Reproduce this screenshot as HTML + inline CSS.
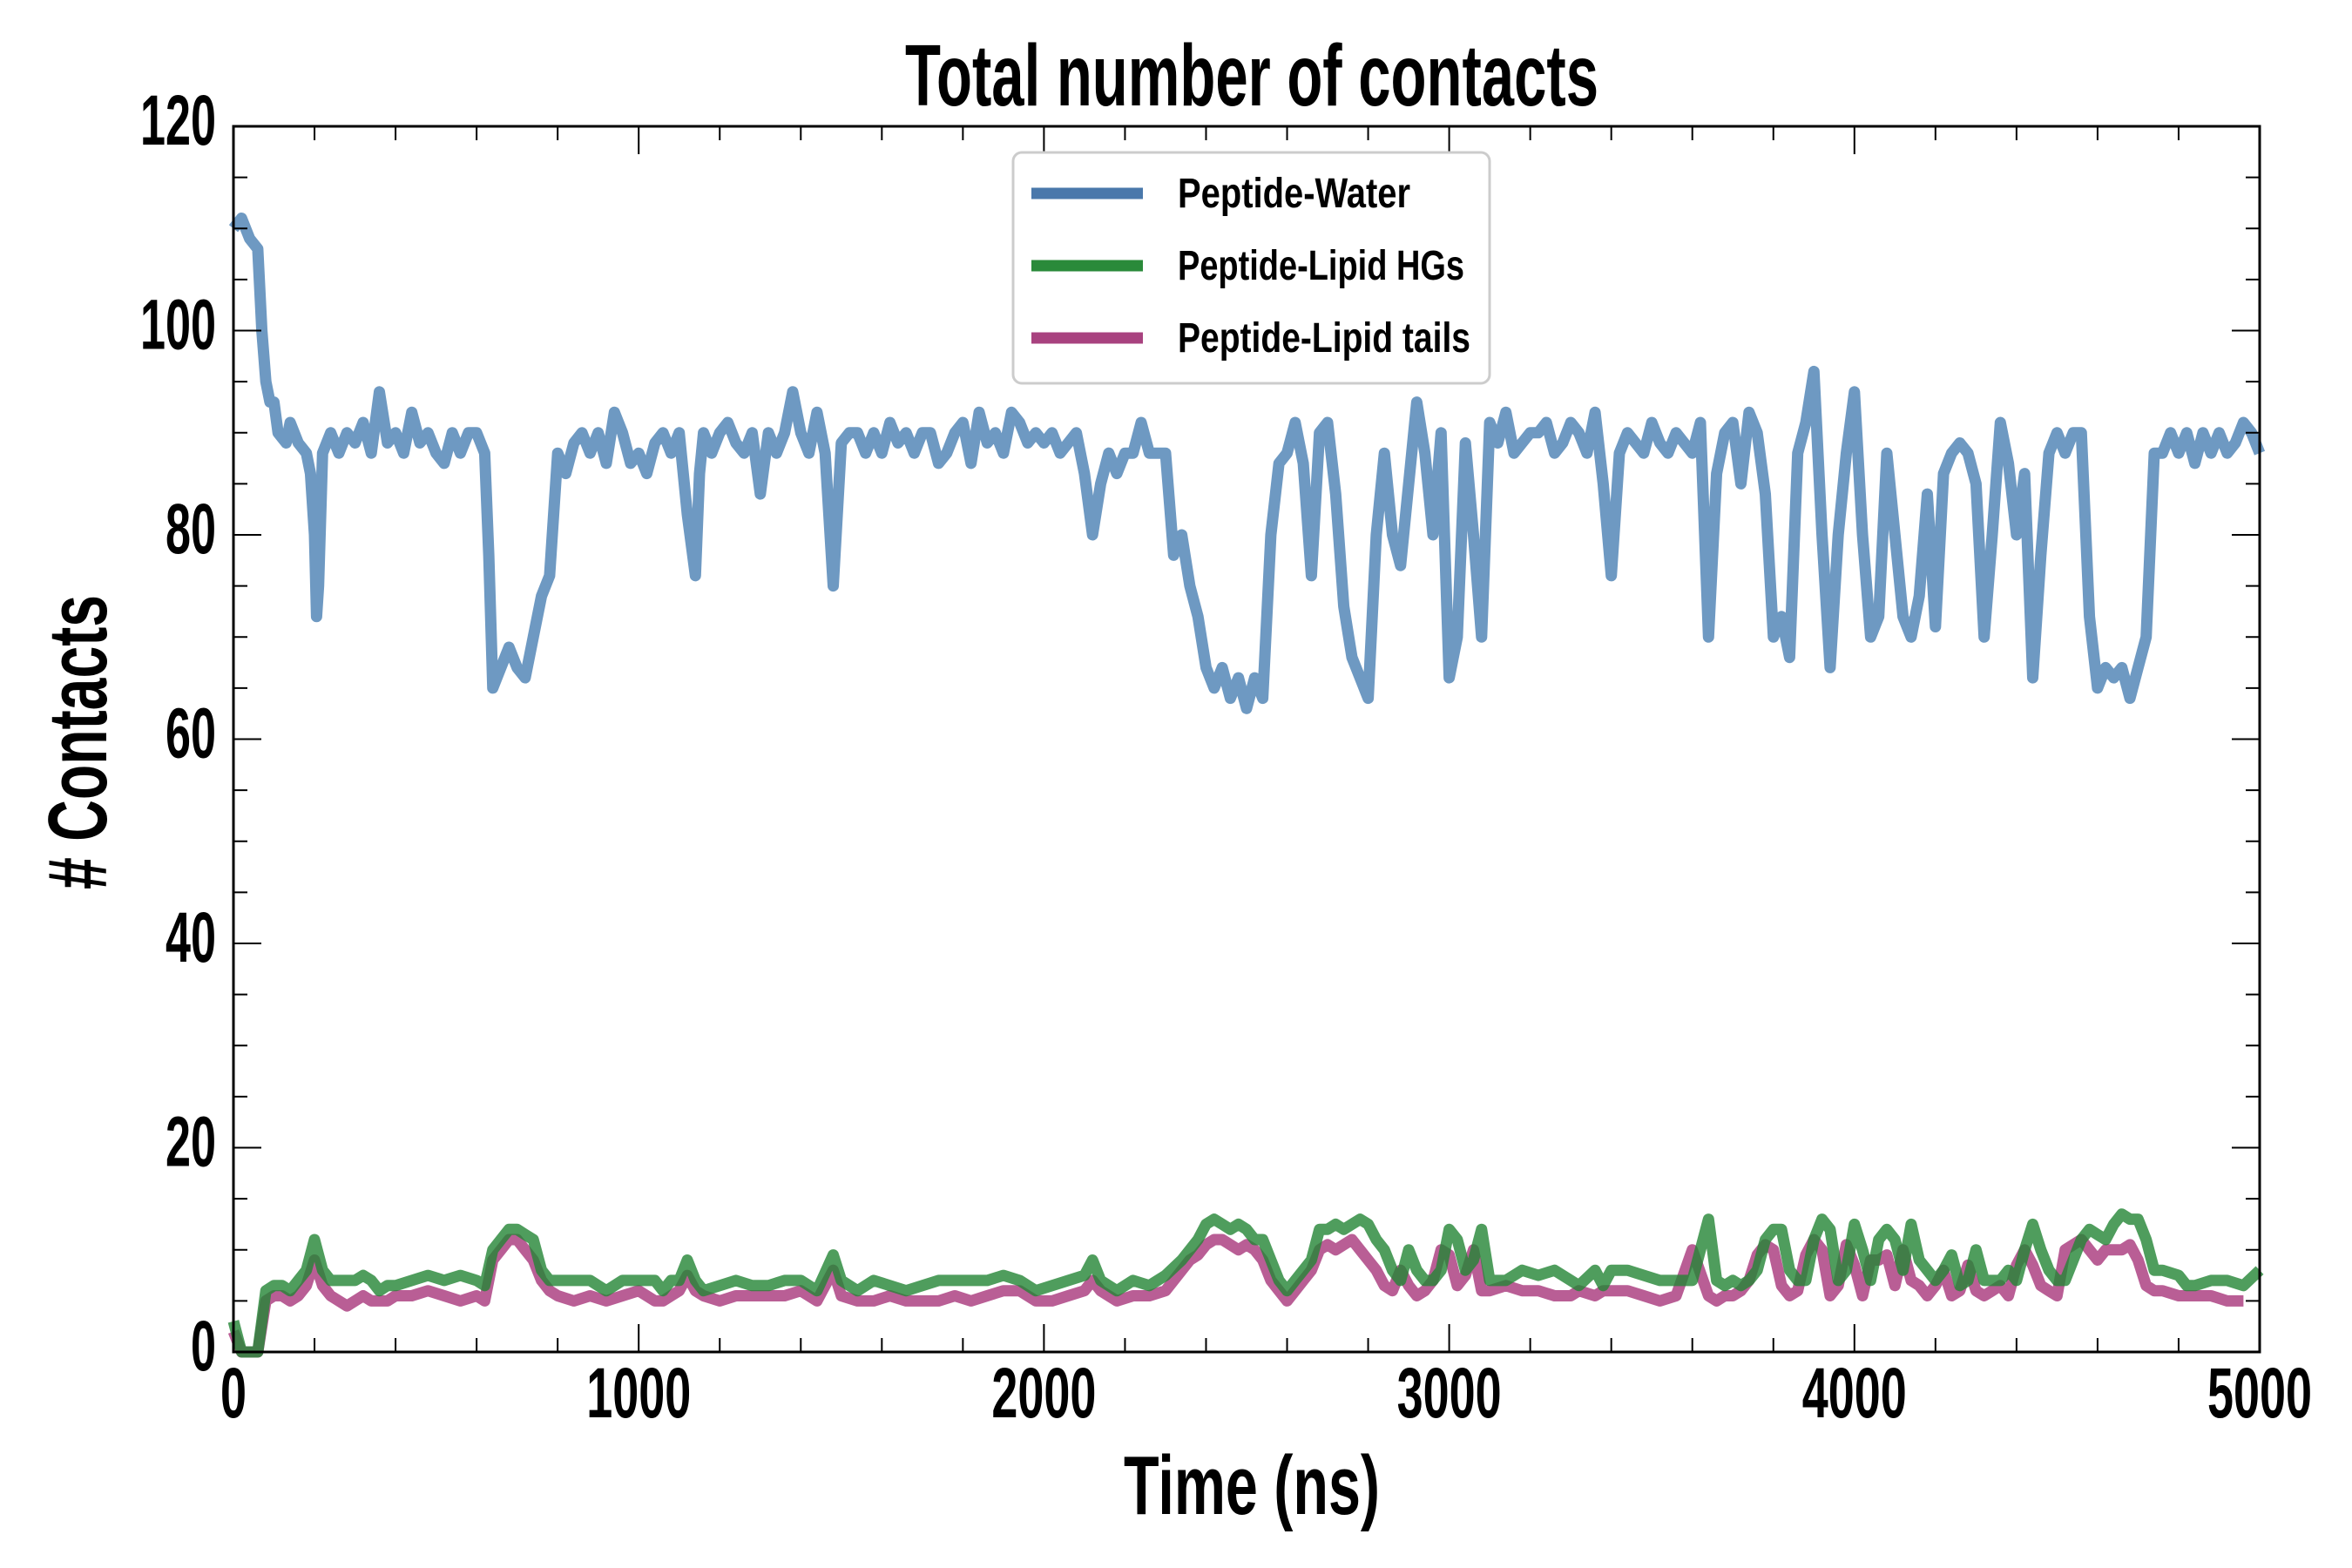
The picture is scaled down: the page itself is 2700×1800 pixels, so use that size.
<!DOCTYPE html>
<html><head><meta charset="utf-8">
<style>
html,body{margin:0;padding:0;background:#fff;}
svg{display:block;}
text{font-family:"Liberation Sans Narrow","Liberation Sans",sans-serif;font-weight:bold;fill:#000;}
</style></head>
<body>
<svg id="chart" width="2700" height="1800" viewBox="0 0 2700 1800" xmlns="http://www.w3.org/2000/svg">
<rect width="2700" height="1800" fill="#fff"/>
<g id="series"></g>
<g id="axes"></g>
<text x="1039" y="121" font-size="100" textLength="796" lengthAdjust="spacingAndGlyphs">Total number of contacts</text>
<text x="1290" y="1738" font-size="96" textLength="294" lengthAdjust="spacingAndGlyphs">Time (ns)</text>
<text transform="translate(122,1021) rotate(-90)" x="0" y="0" font-size="96" textLength="338" lengthAdjust="spacingAndGlyphs"># Contacts</text>
<g>
<rect x="1163" y="175" width="547" height="265" rx="10" fill="#fff" stroke="#ccc" stroke-width="3"/>
<line x1="1184" y1="222" x2="1312" y2="222" stroke="#4a78ab" stroke-width="13"/>
<text x="1352" y="238" font-size="48" textLength="267" lengthAdjust="spacingAndGlyphs">Peptide-Water</text>
<line x1="1184" y1="305" x2="1312" y2="305" stroke="#2a8a3a" stroke-width="13"/>
<text x="1352" y="321" font-size="48" textLength="329" lengthAdjust="spacingAndGlyphs">Peptide-Lipid HGs</text>
<line x1="1184" y1="388" x2="1312" y2="388" stroke="#a8427f" stroke-width="13"/>
<text x="1352" y="404" font-size="48" textLength="336" lengthAdjust="spacingAndGlyphs">Peptide-Lipid tails</text>
</g>
</svg>
<script>
const waterT=[0,20,40,60,70,80,90,100,110,130,140,160,180,190,200,205,210,220,240,260,280,300,320,340,360,380,400,420,440,460,480,500,520,540,560,580,600,620,630,640,660,680,700,720,740,760,780,800,820,840,860,880,900,920,940,960,980,1000,1020,1040,1060,1080,1100,1120,1140,1150,1160,1180,1200,1220,1240,1260,1280,1300,1320,1340,1360,1380,1400,1420,1440,1460,1480,1500,1520,1540,1560,1580,1600,1620,1640,1660,1680,1700,1720,1740,1760,1780,1800,1820,1840,1860,1880,1900,1920,1940,1960,1980,2000,2020,2040,2060,2080,2100,2120,2140,2160,2180,2200,2220,2240,2260,2280,2300,2320,2340,2360,2380,2400,2420,2440,2460,2480,2500,2520,2540,2560,2580,2600,2620,2640,2660,2680,2700,2720,2740,2760,2780,2800,2820,2840,2860,2880,2900,2920,2940,2960,2980,3000,3020,3040,3060,3080,3100,3120,3140,3160,3180,3200,3220,3240,3260,3280,3300,3320,3340,3360,3380,3400,3420,3440,3460,3480,3500,3520,3540,3560,3580,3600,3620,3640,3660,3680,3700,3720,3740,3760,3780,3800,3820,3840,3860,3880,3900,3920,3940,3960,3980,4000,4020,4040,4060,4080,4100,4120,4140,4160,4180,4200,4220,4240,4260,4280,4300,4320,4340,4360,4380,4400,4420,4440,4460,4480,4500,4520,4540,4560,4580,4600,4620,4640,4660,4680,4700,4720,4740,4760,4780,4800,4820,4840,4860,4880,4900,4920,4940,4960,4980,5000];
const waterV=[110,111,109,108,100,95,93,93,90,89,91,89,88,86,80,72,75,88,90,88,90,89,91,88,94,89,90,88,92,89,90,88,87,90,88,90,90,88,78,65,67,69,67,66,70,74,76,88,86,89,90,88,90,87,92,90,87,88,86,89,90,88,90,82,76,86,90,88,90,91,89,88,90,84,90,88,90,94,90,88,92,88,75,89,90,90,88,90,88,91,89,90,88,90,90,87,88,90,91,87,92,89,90,88,92,91,89,90,89,90,88,89,90,86,80,85,88,86,88,88,91,88,88,88,78,80,75,72,67,65,67,64,66,63,66,64,80,87,88,91,87,76,90,91,84,73,68,66,64,80,88,80,77,85,93,88,80,90,66,70,89,80,70,91,89,92,88,89,90,90,91,88,89,91,90,88,92,85,76,88,90,89,88,91,89,88,90,89,88,91,70,86,90,91,85,92,90,84,70,72,68,88,91,96,80,67,80,88,94,80,70,72,88,80,72,70,74,84,71,86,88,89,88,85,70,80,91,87,80,86,66,78,88,90,88,90,90,72,65,67,66,67,64,67,70,88,88,90,88,90,87,90,88,90,88,89,91,90,88];
const lipidT=[0,20,40,60,80,100,120,140,160,180,200,220,240,260,280,300,320,340,360,380,400,440,480,520,560,600,620,640,660,680,700,720,740,760,780,800,840,880,920,960,1000,1040,1060,1080,1100,1120,1140,1160,1200,1240,1280,1320,1360,1400,1440,1480,1500,1540,1580,1620,1660,1700,1740,1780,1820,1860,1900,1940,1980,2020,2060,2100,2120,2140,2180,2220,2260,2300,2340,2360,2380,2400,2420,2440,2460,2480,2500,2520,2540,2560,2580,2600,2620,2640,2660,2680,2700,2720,2740,2760,2780,2800,2820,2840,2860,2880,2900,2920,2940,2960,2980,3000,3020,3040,3060,3080,3100,3140,3180,3220,3260,3300,3320,3360,3380,3400,3440,3480,3520,3560,3600,3640,3660,3680,3700,3720,3740,3760,3780,3800,3820,3840,3860,3880,3900,3920,3940,3960,3980,4000,4020,4040,4060,4080,4100,4120,4140,4160,4180,4200,4220,4240,4260,4280,4300,4320,4340,4360,4380,4400,4420,4440,4460,4480,4500,4520,4560,4580,4600,4620,4640,4660,4680,4700,4720,4740,4760,4800,4820,4840,4880,4920,4960,5000];
const hgV=[3,0,0,0,6,6.5,6.5,6,7,8,11,8,7,7,7,7,7.5,7,6,6.5,6.5,7,7.5,7,7.5,7,6.5,10,11,12,12,11.5,11,8,7,7,7,7,6,7,7,7,6,7,7,9,7,6,6.5,7,6.5,6.5,7,7,6,9.5,7,6,7,6.5,6,6.5,7,7,7,7,7.5,7,6,6.5,7,7.5,9,7,6,7,6.5,7.5,9,10,11,12.5,13,12.5,12,12.5,12,11,11,9,7,6,7,8,9,12,12,12.5,12,12.5,13,12.5,11,10,8,7,10,8,7,7,8,12,11,8,9,12,7,7,8,7.5,8,7,6.5,8,6.5,8,8,7.5,7,7,7,13,7,6.5,7,6.5,7,8,11,12,12,8,7,7,11,13,12,7,8,12.5,10,7,11,12,11,8,12.5,9,8,7,8,9.5,6.5,7,10,7,7,7,8,7,10,12.5,10,8,7,7,11,12,11.5,11,12.5,13.5,13,13,11,8,8,7.5,6.5,6.5,7,7,6.5,8];
const tailV=[2,0,0,0,5,5.5,5.5,5,5.5,6.5,9,6.5,5.5,5,4.5,5,5.5,5,5,5,5.5,5.5,6,5.5,5,5.5,5,9,10,11,11,10,9,7,6,5.5,5,5.5,5,5.5,6,5,5,5.5,6,7.5,6,5.5,5,5.5,5.5,5.5,5.5,6,5,8,5.5,5,5,5.5,5,5,5,5.5,5,5.5,6,6,5,5,5.5,6,7,6,5,5.5,5.5,6,8,9,9.5,10.5,11,11,10.5,10,10.5,10,9,7,6,5,6,7,8,10,10.5,10,10.5,11,10,9,8,6.5,6,8,6.5,5.5,6,7,10,9.5,6.5,7.5,10,6,6,6.5,6,6,5.5,5.5,6,5.5,6,6,6,5.5,5,5.5,10,5.5,5,5.5,5.5,6,7,9.5,10.5,10,6.5,5.5,6,9.5,11,10,5.5,6.5,10.5,8.5,5.5,9,9,9.5,6.5,10,7,6.5,5.5,6.5,8,5.5,6,8.5,6,5.5,6,6.5,5.5,8.5,10,8.5,6.5,6,5.5,10,11,10,9,10,10,10,10.5,9,6.5,6,6,5.5,5.5,5.5,5.5,5,5];

const X0=268,X1=2594,Y0=1552,Y1=145;
const xTicks=[0,1000,2000,3000,4000,5000];
const yTicks=[0,20,40,60,80,100,120];
function sx(t){return X0+(t/5000)*(X1-X0);}
function sy(v){return Y0-(v/120)*(Y0-Y1);}
const NS="http://www.w3.org/2000/svg";
const series=document.getElementById('series');
const axes=document.getElementById('axes');
function drawLine(ts,vs,color,name){
  let d='';
  for(let i=0;i<ts.length;i++){d+=(i?'L':'M')+sx(ts[i]).toFixed(1)+','+sy(vs[i]).toFixed(1);}
  const p=document.createElementNS(NS,'path');
  p.setAttribute('d',d);p.setAttribute('fill','none');p.setAttribute('stroke',color);
  p.setAttribute('stroke-width','13');p.setAttribute('stroke-linejoin','round');p.setAttribute('stroke-opacity','0.8');
  
  
  series.appendChild(p);
}
drawLine(waterT,waterV,'#4a7fb3','water-line');
drawLine(lipidT,tailV,'#a8367a','tails-line');
drawLine(lipidT,hgV,'#238535','hgs-line');
function ln(x1,y1,x2,y2,w,name){
  const l=document.createElementNS(NS,'line');
  l.setAttribute('x1',x1);l.setAttribute('y1',y1);l.setAttribute('x2',x2);l.setAttribute('y2',y2);
  l.setAttribute('stroke','#000');l.setAttribute('stroke-width',w);
  
  
  axes.appendChild(l);
}
for(let t=0;t<=5000;t+=200){
  const L=(t%1000===0)?32:16,x=sx(t);
  ln(x,Y0,x,Y0-L,2,'x-tick');ln(x,Y1,x,Y1+L,2,'x-tick-top');
}
for(let v=0;v<=120;v+=5){
  const L=(v%20===0)?32:16,y=sy(v);
  ln(X0,y,X0+L,y,2,'y-tick');ln(X1,y,X1-L,y,2,'y-tick-right');
}
const frame=document.createElementNS(NS,'rect');
frame.setAttribute('x',X0);frame.setAttribute('y',Y1);frame.setAttribute('width',X1-X0);frame.setAttribute('height',Y0-Y1);
frame.setAttribute('fill','none');frame.setAttribute('stroke','#000');frame.setAttribute('stroke-width','3');


axes.appendChild(frame);
function txt(x,y,s,anchor,len,name){
  const e=document.createElementNS(NS,'text');
  e.setAttribute('x',x);e.setAttribute('y',y);e.setAttribute('font-size','82');
  e.setAttribute('text-anchor',anchor);e.setAttribute('textLength',len);e.setAttribute('lengthAdjust','spacingAndGlyphs');
  e.textContent=s;
  
  
  axes.appendChild(e);
}
xTicks.forEach(t=>{const s=String(t);txt(sx(t),1627,s,'middle',s.length*30,'x-tick-label');});
yTicks.forEach(v=>{const s=String(v);txt(248,sy(v)+21,s,'end',s.length*29,'y-tick-label');});
</script>
</body></html>
